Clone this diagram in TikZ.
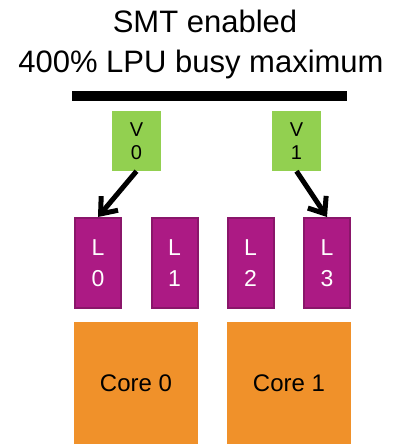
\documentclass[tikz,border=0pt]{standalone}
\usepackage{fontspec}
\setmainfont{Liberation Sans}
\usetikzlibrary{arrows.meta}
\definecolor{vgreen}{HTML}{92D050}
\definecolor{lpurple}{HTML}{AC1A84}
\definecolor{lborder}{HTML}{8A166A}
\definecolor{corange}{HTML}{F0912A}
\tikzset{
    heading/.style={anchor=base, font=\fontsize{31}{40}\selectfont},
    vbox/.style={fill=vgreen, minimum width=49pt, minimum height=60pt, inner sep=0pt,
        align=center, font=\fontsize{20}{23}\selectfont},
    lbox/.style={fill=lpurple, draw=lborder, line width=2pt, minimum width=46pt,
        minimum height=90pt, inner sep=0pt, align=center, text=white,
        font=\fontsize{23}{31}\selectfont},
    corebox/.style={fill=corange, minimum width=124pt, minimum height=122pt,
        inner sep=0pt, font=\fontsize{24}{28}\selectfont},
    maparrow/.style={line width=5pt, -{Straight Barb[length=14pt,width=22pt]}}
}
\begin{document}
\begin{tikzpicture}[x=1pt, y=-1pt]
        \useasboundingbox (0,0) rectangle (399,444);
        % heading
        \node[heading] (title1) at (205,33) {SMT enabled};
        \node[heading] (title2) at (201,73) {400\% LPU busy maximum};
        \node (bar) at (209.5,96) [fill=black, minimum width=275pt, minimum height=10pt, inner sep=0pt] {};
        % virtual processors
        \node[vbox] (v0) at (136.5,141) {V\\0};
        \node[vbox] (v1) at (296.5,141) {V\\1};
        % logical processors
        \node[lbox] (l0) at (98,263) {L\\0};
        \node[lbox] (l1) at (174.5,263) {L\\1};
        \node[lbox] (l2) at (250.5,263) {L\\2};
        \node[lbox] (l3) at (327,263) {L\\3};
        % cores
        \node[corebox] (c0) at (136,383) {Core 0};
        \node[corebox] (c1) at (289,383) {Core 1};
        \draw[maparrow] (v0.south) -- (l0.north);
        \draw[maparrow] (v1.south) -- (l3.north);
    \end{tikzpicture}
\end{document}
